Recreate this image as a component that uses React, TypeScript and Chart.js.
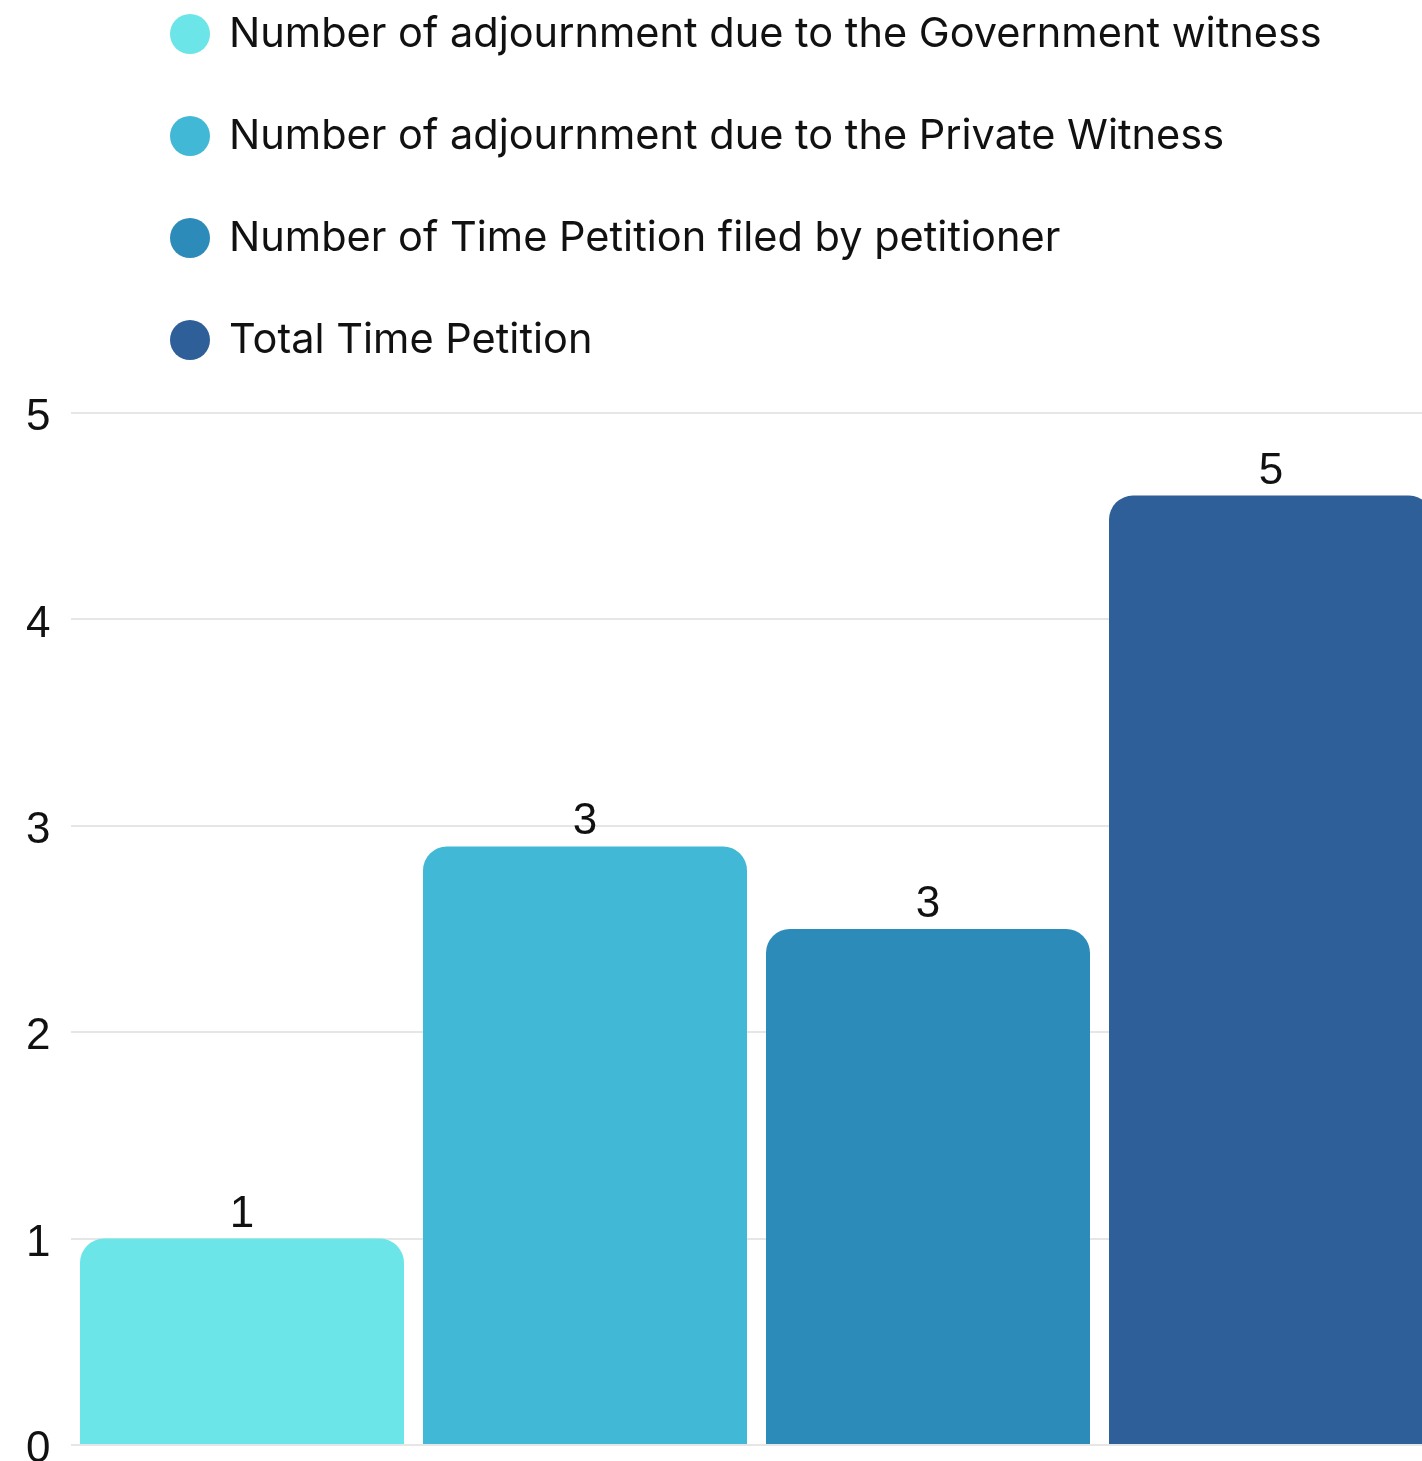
import React, { useEffect, useRef } from "react";
import { Chart, registerables } from "chart.js";

Chart.register(...registerables);

const categories: string[] = [""];
const seriesNames: string[] = [
  "Number of adjournment due to the Government witness",
  "Number of adjournment due to the Private Witness",
  "Number of Time Petition filed by petitioner",
  "Total Time Petition",
];
const seriesValues: number[] = [1, 2.9, 2.5, 4.6];
const seriesColors: string[] = ["#6CE5E8", "#41B8D5", "#2D8BBA", "#2F5F98"];
const yTicks: number[] = [0, 1, 2, 3, 4, 5];

const LEGEND_FONT = "41.5px Inter";
const TICK_FONT_FAMILY = "'Liberation Sans', Arial, sans-serif";

const legendPlugin = {
  id: "verticalLegend",
  afterDraw(chart: any) {
    const ctx = chart.ctx;
    ctx.save();
    chart.data.datasets.forEach((ds: any, i: number) => {
      const baseline = 47 + i * 102;
      const cy = baseline - 13;
      ctx.beginPath();
      ctx.fillStyle = ds.backgroundColor;
      ctx.arc(190, cy, 20, 0, Math.PI * 2);
      ctx.fill();
      ctx.fillStyle = "#111";
      ctx.font = LEGEND_FONT;
      ctx.textAlign = "left";
      ctx.textBaseline = "alphabetic";
      ctx.fillText(ds.label, 229, baseline);
    });
    ctx.restore();
  },
};

const valueLabelPlugin = {
  id: "valueLabels",
  afterDatasetsDraw(chart: any) {
    const ctx = chart.ctx;
    ctx.save();
    ctx.font = `44px ${TICK_FONT_FAMILY}`;
    ctx.fillStyle = "#111";
    ctx.textAlign = "center";
    ctx.textBaseline = "alphabetic";
    chart.data.datasets.forEach((ds: any, i: number) => {
      const meta = chart.getDatasetMeta(i);
      meta.data.forEach((el: any, j: number) => {
        const v = ds.data[j];
        ctx.fillText(String(Math.round(v)), el.x, el.y - 12);
      });
    });
    ctx.restore();
  },
};

export default function App() {
  const ref = useRef<HTMLCanvasElement | null>(null);
  useEffect(() => {
    if (!ref.current) return;
    const chart = new Chart(ref.current, {
      type: "bar",
      data: {
        labels: categories,
        datasets: seriesNames.map((name, i) => ({
          label: name,
          data: [seriesValues[i]],
          backgroundColor: seriesColors[i],
          borderRadius: { topLeft: 24, topRight: 24, bottomLeft: 0, bottomRight: 0 },
          borderSkipped: false,
          categoryPercentage: 1,
          barPercentage: 324 / 343,
        })),
      },
      options: {
        animation: false,
        responsive: false,
        layout: { padding: { top: 413, bottom: 75, left: 0, right: 0.5 } },
        plugins: {
          legend: { display: false },
          tooltip: { enabled: false },
        },
        scales: {
          x: { display: false },
          y: {
            min: 0,
            max: 5,
            afterFit: (s: any) => {
              s.width = 70.5;
            },
            afterBuildTicks: (s: any) => {
              s.ticks = yTicks.map((v) => ({ value: v }));
            },
            border: { display: false },
            grid: { color: "#e6e6e6", lineWidth: 2, drawTicks: false },
            ticks: {
              padding: 20,
              labelOffset: 5,
              color: "#111",
              font: { size: 44, family: TICK_FONT_FAMILY },
            },
          },
        },
      },
      plugins: [legendPlugin, valueLabelPlugin],
    });
    return () => chart.destroy();
  }, []);
  return (
    <div
      style={{
        position: "fixed",
        left: 0,
        top: 0,
        width: 1422,
        height: 1461,
        overflow: "hidden",
        background: "#fff",
      }}
    >
      <canvas ref={ref} width={1443} height={1520} style={{ display: "block" }} />
    </div>
  );
}
